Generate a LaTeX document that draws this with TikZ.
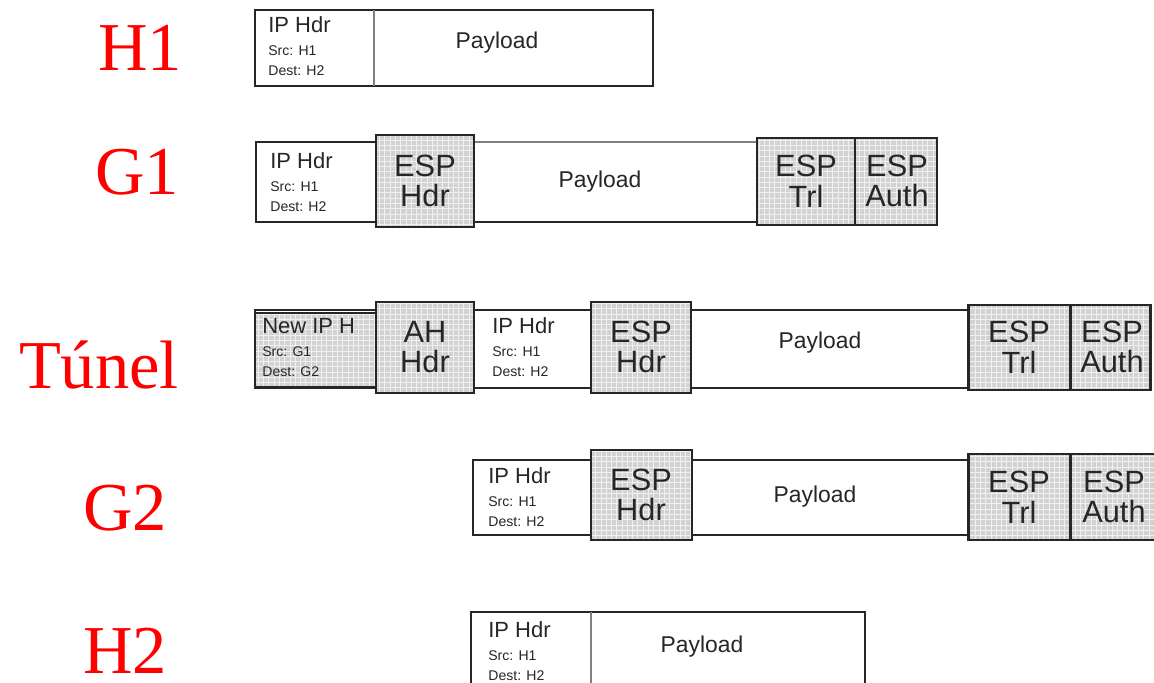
\documentclass[tikz,border=0pt]{standalone}
\usepackage{fontspec}
\setmainfont{Liberation Serif}
\setsansfont{Liberation Sans}
\usetikzlibrary{patterns}

\tikzset{
  cell/.style={draw=black!85, line width=1.7pt, fill=white},
  espcell/.style={draw=black!85, line width=1.7pt,
                  preaction={fill=gray!35}, pattern=grid, pattern color=gray!12},
  hdr/.style={anchor=base west, inner sep=0pt, text=black!85,
              font=\sffamily\fontsize{12.5}{14}\selectfont},
  addr/.style={anchor=base west, inner sep=0pt, text=black!85,
               font=\sffamily\fontsize{8}{9}\selectfont},
  load/.style={inner sep=0pt, text=black!85,
               font=\sffamily\fontsize{13}{15}\selectfont},
  esptxt/.style={inner sep=0pt, align=center, text=black!85,
                 font=\sffamily\fontsize{17.5}{17.5}\selectfont},
  rowname/.style={anchor=base, inner sep=0pt, text=red,
                  font=\fontsize{39}{44}\selectfont}
}

% name, x, first baseline, title, src, dest
\newcommand{\ipfields}[6]{%
  \node[hdr] (#1) at (#2,#3) {#4};
  \node[addr] (#1s) at (#2,#3+23) {Src: #5};
  \node[addr] (#1d) at (#2,#3+43) {Dest: #6};
}

\begin{document}
\begin{tikzpicture}[x=0.02cm, y=-0.02cm]
  \clip (0,0) rectangle (1154,683);
  \fill[white] (0,0) rectangle (1154,683);

  % --- Row names ---
  \node[rowname] (nH1)  at (140,70)  {H1};
  \node[rowname] (nG1)  at (137,194) {G1};
  \node[rowname] (nTun) at (99,388)  {Túnel};
  \node[rowname] (nG2)  at (125,530) {G2};
  \node[rowname] (nH2)  at (125,673) {H2};

  % --- H1 ---
  \draw[cell] (255,10) rectangle (653,86);
  \draw[line width=1.7pt, draw=gray] (374,10) -- (374,86);
  \ipfields{ipA}{268}{32}{IP Hdr}{H1}{H2}
  \node[load] (plA) at (497,43) {Payload};

  % --- G1 ---
  \draw[cell] (256,142) rectangle (757,222);
  \draw[line width=1.7pt, draw=gray] (474,142) -- (757,142);
  \ipfields{ipB}{270}{168}{IP Hdr}{H1}{H2}
  \draw[espcell] (376,135) rectangle (474,227);
  \node[esptxt] (ehB) at (425,181) {ESP\\Hdr};
  \node[load] (plB) at (600,182) {Payload};
  \draw[espcell] (757,138) rectangle (855,225);
  \node[esptxt] (etB) at (806,181) {ESP\\Trl};
  \draw[espcell] (855,138) rectangle (937,225);
  \node[esptxt] (eaB) at (897,181) {ESP\\Auth};

  % --- Tunnel ---
  \draw[cell] (255,310) rectangle (968,388);
  \draw[espcell] (255,313) rectangle (376,387);
  \ipfields{ipC}{262}{333}{New IP H}{G1}{G2}
  \draw[espcell] (376,302) rectangle (474,393);
  \node[esptxt] (ahC) at (425,347) {AH\\Hdr};
  \ipfields{ipD}{492}{333}{IP Hdr}{H1}{H2}
  \draw[espcell] (591,302) rectangle (691,393);
  \node[esptxt] (ehC) at (641,347) {ESP\\Hdr};
  \node[load] (plC) at (820,343) {Payload};
  \draw[espcell] (968,305) rectangle (1070,390);
  \node[esptxt] (etC) at (1019,347) {ESP\\Trl};
  \draw[espcell] (1070,305) rectangle (1150,390);
  \node[esptxt] (eaC) at (1112,347) {ESP\\Auth};

  % --- G2 ---
  \draw[cell] (473,460) rectangle (968,535);
  \ipfields{ipE}{488}{483}{IP Hdr}{H1}{H2}
  \draw[espcell] (591,450) rectangle (692,540);
  \node[esptxt] (ehE) at (641,495) {ESP\\Hdr};
  \node[load] (plE) at (815,497) {Payload};
  \draw[espcell] (968,454) rectangle (1070,540);
  \node[esptxt] (etE) at (1019,497) {ESP\\Trl};
  \draw[espcell] (1070,454) rectangle (1160,540);
  \node[esptxt] (eaE) at (1114,497) {ESP\\Auth};

  % --- H2 ---
  \draw[cell] (471,612) rectangle (865,700);
  \draw[line width=1.7pt, draw=gray] (591,612) -- (591,700);
  \ipfields{ipF}{488}{637}{IP Hdr}{H1}{H2}
  \node[load] (plF) at (702,647) {Payload};
\end{tikzpicture}
\end{document}
